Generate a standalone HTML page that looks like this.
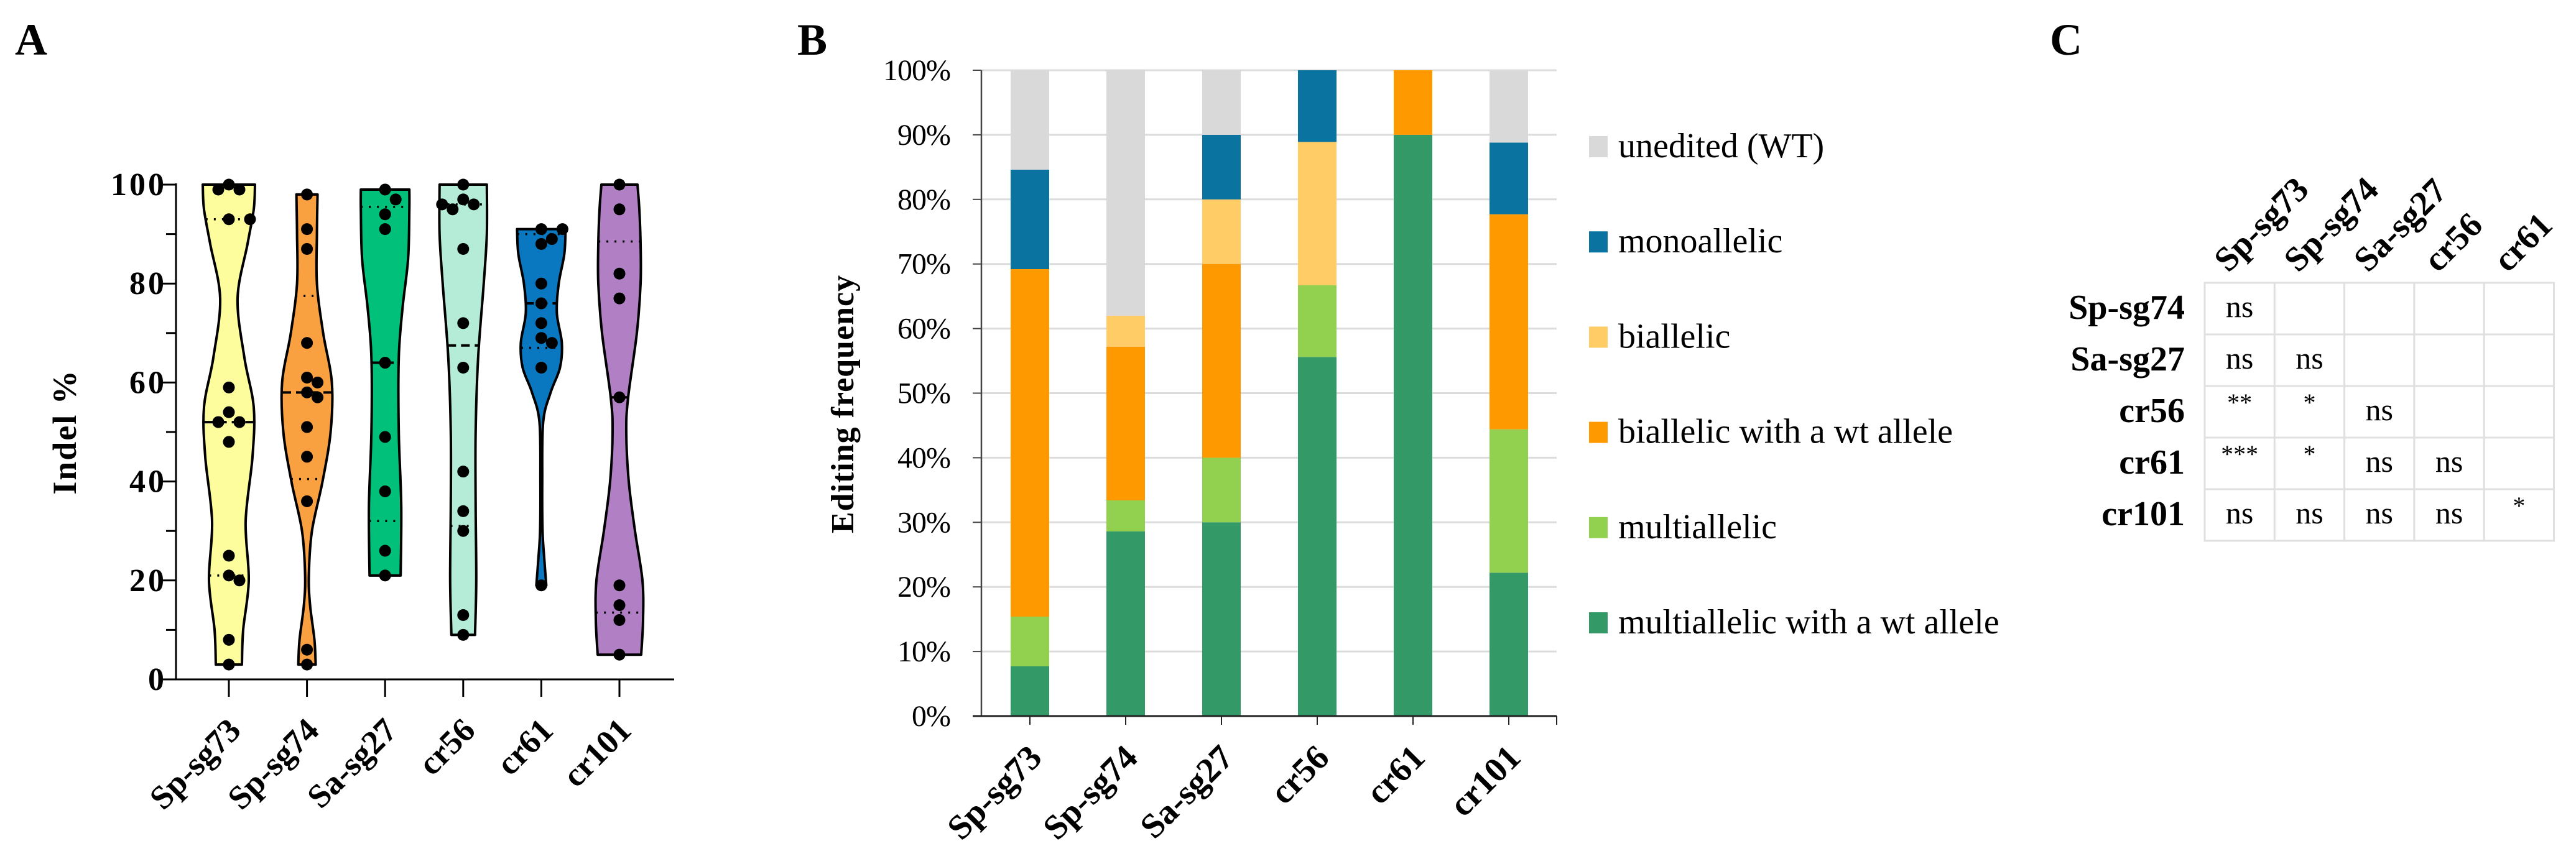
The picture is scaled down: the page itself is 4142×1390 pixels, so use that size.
<!DOCTYPE html>
<html><head><meta charset="utf-8">
<style>
html,body{margin:0;padding:0;background:#fff;}
svg{display:block;font-family:"Liberation Serif",serif;}
</style></head>
<body>
<svg id="fig" width="4142" height="1390" viewBox="0 0 4142 1390" xmlns="http://www.w3.org/2000/svg">
<rect x="0" y="0" width="4142" height="1390" fill="#fff"/>
<text x="24" y="88" font-size="72" font-weight="bold">A</text>
<text x="1282" y="88" font-size="72" font-weight="bold">B</text>
<text x="3296" y="88" font-size="72" font-weight="bold">C</text>
<g id="pa"></g>
<g id="pb"></g>
<g id="pc"></g>
</svg>
<script>
// ---------- Panel A data ----------
const vCats = ["Sp-sg73","Sp-sg74","Sa-sg27","cr56","cr61","cr101"];
const vColors = ["#fdfd9e","#f9a040","#00c07a","#b4ecd8","#0a78c0","#b07fc4"];
const vPoints0 = [100,99,99,93,93,59,54,52,52,48,25,21,20,8,3];
const vPoints1 = [98,91,87,68,61,60,58,57,51,45,36,6,3];
const vPoints2 = [99,97,94,91,64,49,38,26,21];
const vPoints3 = [100,97,96,95,96,87,72,63,42,34,30,13,9];
const vPoints4 = [91,91,89,88,80,76,72,69,68,63,19];
const vPoints5 = [100,95,82,77,57,19,15,12,5];
const vMedians = [52,58,64,67.5,76,57];
const vQ1 = [21,40.5,32,31,67,13.5];
const vQ3 = [93,77.5,95.5,96,90,88.5];
// density half-width profiles [value, halfWidth]
const vDens0 = [[3,21],[10,23],[20,32],[32,27],[45,38],[55,40],[65,25],[77,14],[88,30],[95,40],[100,42]];
const vDens1 = [[3,14],[8,12],[15,5],[21,3],[30,8],[40,25],[50,38],[60,40],[70,26],[80,16],[90,16],[98,17]];
const vDens2 = [[21,25],[35,26],[50,22],[65,22],[75,28],[85,37],[95,39],[99,39]];
const vDens3 = [[9,19],[20,21],[35,20],[50,20],[65,24],[80,33],[90,38],[100,38]];
const vDens4 = [[19,8],[24,5],[30,2],[40,1.5],[52,3],[58,15],[63,30],[68,33],[74,25],[80,28],[86,37],[91,39]];
const vDens5 = [[5,35],[12,38],[20,37],[30,25],[40,15],[50,11],[57,14],[70,28],[80,34],[88,34],[95,32],[100,29]];
const vTicks = [0,20,40,60,80,100];

// ---------- Panel B data ----------
const bCats = ["Sp-sg73","Sp-sg74","Sa-sg27","cr56","cr61","cr101"];
const sMultiWt = [7.7,28.6,30,55.6,90,22.2];
const sMulti = [7.7,4.8,10,11.1,0,22.2];
const sBiWt = [53.8,23.8,30,0,10,33.3];
const sBi = [0,4.8,10,22.2,0,0];
const sMono = [15.4,0,10,11.1,0,11.1];
const sWT = [15.4,38.1,10,0,0,11.1];
const bSeriesNames = ["multiallelic with a wt allele","multiallelic","biallelic with a wt allele","biallelic","monoallelic","unedited (WT)"];
const bColors = ["#339966","#92d050","#ff9900","#ffcc66","#0b73a0","#d9d9d9"];
const bTicks = [0,10,20,30,40,50,60,70,80,90,100];

// ---------- Panel C data ----------
const cCols = ["Sp-sg73","Sp-sg74","Sa-sg27","cr56","cr61"];
const cRows = ["Sp-sg74","Sa-sg27","cr56","cr61","cr101"];
const cRow0 = ["ns"];
const cRow1 = ["ns","ns"];
const cRow2 = ["**","*","ns"];
const cRow3 = ["***","*","ns","ns"];
const cRow4 = ["ns","ns","ns","ns","*"];

const NS="http://www.w3.org/2000/svg";
function mk(tag, attrs, parent, text){
  const e=document.createElementNS(NS,tag);
  for(const k in attrs) e.setAttribute(k,attrs[k]);
  if(text!==undefined) e.textContent=text;
  parent.appendChild(e); return e;
}

// ===== Panel A =====
(function(){
  const g=document.getElementById('pa');
  const X0=283, X1=1084, Y0=1093, Y100=297;
  const y=v=>Y0+(Y100-Y0)*v/100;
  const x=i=>368+i*125.6;
  const pts=[vPoints0,vPoints1,vPoints2,vPoints3,vPoints4,vPoints5];
  const dens=[vDens0,vDens1,vDens2,vDens3,vDens4,vDens5];
  // axes
  const ax=mk('line',{x1:X0,y1:Y0,x2:X0,y2:Y100-2,stroke:'#000','stroke-width':3},g);
  
  
  const bx=mk('line',{x1:X0-2,y1:Y0,x2:X1,y2:Y0,stroke:'#000','stroke-width':3},g);
  
  
  for(let v=0;v<=100;v+=10){
    const major=v%20===0;
    const t=mk('line',{x1:X0-(major?28:16),y1:y(v),x2:X0,y2:y(v),stroke:'#000','stroke-width':3},g);
    
    
  }
  vTicks.forEach(v=>{
    const t=mk('text',{x:268,y:y(v)+17,'font-size':52,'font-weight':'bold','text-anchor':'end','letter-spacing':4},g,String(v));
    
    
  });
  const yt=mk('text',{x:0,y:0,'font-size':54,'font-weight':'bold','text-anchor':'middle',transform:'translate(122,695) rotate(-90)','letter-spacing':2},g,'Indel %');
  
  
  function hw(d,v){
    if(v<=d[0][0]) return d[0][1];
    for(let k=1;k<d.length;k++){ if(v<=d[k][0]){const a=d[k-1],b=d[k];return a[1]+(b[1]-a[1])*(v-a[0])/(b[0]-a[0]);} }
    return d[d.length-1][1];
  }
  function smooth(P){
    let s='M'+P[0][0]+','+P[0][1];
    for(let i=0;i<P.length-1;i++){
      const p0=P[Math.max(0,i-1)],p1=P[i],p2=P[i+1],p3=P[Math.min(P.length-1,i+2)];
      const c1=[p1[0]+(p2[0]-p0[0])/6,p1[1]+(p2[1]-p0[1])/6];
      const c2=[p2[0]-(p3[0]-p1[0])/6,p2[1]-(p3[1]-p1[1])/6];
      s+=' C'+c1[0]+','+c1[1]+' '+c2[0]+','+c2[1]+' '+p2[0]+','+p2[1];
    }
    return s;
  }
  vCats.forEach((c,i)=>{
    const cx=x(i), d=dens[i];
    const right=d.map(p=>[cx+p[1],y(p[0])]).reverse(); // top to bottom
    const left=d.map(p=>[cx-p[1],y(p[0])]);            // bottom to top
    let path=smooth(right)+' L'+left[0][0]+','+left[0][1]+' '+smooth(left).slice(1).replace(/^[^C]*/,'')+' Z';
    const v=mk('path',{d:path,fill:vColors[i],stroke:'#000','stroke-width':4,'stroke-linejoin':'round'},g);
    
    
    const md=mk('line',{x1:cx-hw(d,vMedians[i]),x2:cx+hw(d,vMedians[i]),y1:y(vMedians[i]),y2:y(vMedians[i]),stroke:'#000','stroke-width':4,'stroke-dasharray':'14,8'},g);
    
    
    [vQ1[i],vQ3[i]].forEach(q=>{
      const ql=mk('line',{x1:cx-hw(d,q),x2:cx+hw(d,q),y1:y(q),y2:y(q),stroke:'#000','stroke-width':3.5,'stroke-dasharray':'3,10'},g);
      
      
    });
    // beeswarm
    const placed=[]; const r=9.5, s=17;
    pts[i].forEach(p=>{
      const py=y(p); let px=cx;
      for(const o of [0,s,-s,2*s,-2*s,3*s,-3*s]){
        const tx=cx+o;
        if(placed.every(q=>Math.hypot(q[0]-tx,q[1]-py)>=2*r-1)){px=tx;break;}
      }
      placed.push([px,py]);
      const dot=mk('circle',{cx:px,cy:py,r:r,fill:'#000'},g);
      
      
    });
    const tk=mk('line',{x1:cx,y1:Y0,x2:cx,y2:Y0+28,stroke:'#000','stroke-width':3},g);
    
    
    const lb=mk('text',{x:0,y:0,'font-size':54,'font-weight':'bold','text-anchor':'end',transform:'translate('+(cx+22)+',1178) rotate(-45)'},g,c);
    
    
  });
})();

// ===== Panel B =====
(function(){
  const g=document.getElementById('pb');
  const X0=1578, X1=2503, Y0=1152, Y100=113;
  const y=v=>Y0+(Y100-Y0)*v/100;
  const x=i=>1656+i*154;
  const BW=62;
  bTicks.forEach(v=>{
    if(v>0){
      const gl=mk('line',{x1:X0,x2:X1,y1:y(v),y2:y(v),stroke:'#dcdcdc','stroke-width':3},g);
      
      
    }
    const t=mk('line',{x1:X0-14,x2:X0,y1:y(v),y2:y(v),stroke:'#444','stroke-width':2},g);
    
    
    const l=mk('text',{x:1528,y:y(v)+16,'font-size':48,'text-anchor':'end','letter-spacing':-1},g,v+'%');
    
    
  });
  const series=[sMultiWt,sMulti,sBiWt,sBi,sMono,sWT];
  bCats.forEach((c,i)=>{
    let acc=0;
    series.forEach((s,k)=>{
      const v=s[i]; if(v<=0) return;
      const r=mk('rect',{x:x(i)-BW/2,y:y(acc+v),width:BW,height:y(acc)-y(acc+v),fill:bColors[k]},g);
      
      
      acc+=v;
    });
    const tk=mk('line',{x1:x(i),x2:x(i),y1:Y0,y2:Y0+14,stroke:'#222','stroke-width':2},g);
    
    
    const lb=mk('text',{x:0,y:0,'font-size':56,'font-weight':'bold','text-anchor':'end',transform:'translate('+(x(i)+22)+',1222) rotate(-45)'},g,c);
    
    
  });
  const ya=mk('line',{x1:X0,x2:X0,y1:Y0,y2:Y100,stroke:'#444','stroke-width':2.5},g);
  
  
  const xa=mk('line',{x1:X0-14,x2:X1,y1:Y0,y2:Y0,stroke:'#222','stroke-width':3},g);
  
  
  const et=mk('line',{x1:X1,x2:X1,y1:Y0,y2:Y0+14,stroke:'#222','stroke-width':2},g);
  
  
  const yt=mk('text',{x:0,y:0,'font-size':52,'font-weight':'bold','text-anchor':'middle',transform:'translate(1372,650) rotate(-90)','letter-spacing':1},g,'Editing frequency');
  
  
  // legend (top to bottom: reverse order)
  for(let k=5;k>=0;k--){
    const idx=5-k; const cy=236+idx*153.2;
    const sw=mk('rect',{x:2555,y:cy-17,width:30,height:34,fill:bColors[k]},g);
    
    
    const lt=mk('text',{x:2602,y:cy+17,'font-size':56},g,bSeriesNames[k]);
    
    
  }
})();

// ===== Panel C =====
(function(){
  const g=document.getElementById('pc');
  const TX=3545, TY=455, CW=112.3, RH=83;
  const rows=[cRow0,cRow1,cRow2,cRow3,cRow4];
  cRows.forEach((rn,r)=>{
    for(let c=0;c<cCols.length;c++){
      const cell=mk('rect',{x:TX+c*CW,y:TY+r*RH,width:CW,height:RH,fill:'#fff',stroke:'#e0e0e0','stroke-width':3},g);
      
      
      const val=rows[r][c];
      if(val!==undefined){
        const star=val.indexOf('*')>=0;
        const t=mk('text',{x:TX+c*CW+CW/2,y:TY+r*RH+(star?40:55),'font-size':star?40:50,'text-anchor':'middle'},g,val);
        
        
      }
    }
    const rl=mk('text',{x:3513,y:TY+r*RH+58,'font-size':56,'font-weight':'bold','text-anchor':'end'},g,rn);
    
    
  });
  cCols.forEach((cn,c)=>{
    const t=mk('text',{x:0,y:0,'font-size':56,'font-weight':'bold',transform:'translate('+(TX+c*CW+38)+',440) rotate(-45)'},g,cn);
    
    
  });
})();
</script>
</body></html>
